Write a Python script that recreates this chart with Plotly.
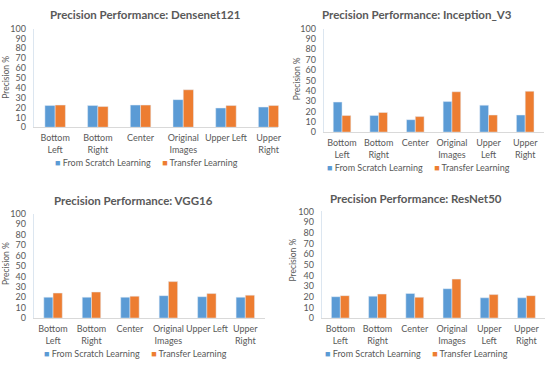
import plotly.graph_objects as go

categories = ["Bottom Left", "Bottom Right", "Center", "Original Images", "Upper Left", "Upper Right"]
labels_wide = ["Bottom<br>Left", "Bottom<br>Right", "Center", "Original<br>Images", "Upper Left", "Upper<br>Right"]
labels_narrow = ["Bottom<br>Left", "Bottom<br>Right", "Center", "Original<br>Images", "Upper<br>Left", "Upper<br>Right"]
y_ticks = [0, 10, 20, 30, 40, 50, 60, 70, 80, 90, 100]

models = ["Densenet121", "Inception_V3", "VGG16", "ResNet50"]
densenet_scratch = [22, 22, 22.5, 28, 19.5, 20.5]
densenet_transfer = [22.5, 21, 22.5, 38, 22, 22]
inception_scratch = [29, 16, 12, 29.5, 26, 16.5]
inception_transfer = [16, 19, 15, 39, 16.5, 39.5]
vgg_scratch = [20, 20, 20, 21.5, 20.5, 20]
vgg_transfer = [24, 25, 21, 35, 23.5, 22]
resnet_scratch = [20, 20.5, 23, 27.5, 19, 19]
resnet_transfer = [21, 22.5, 19.5, 36.5, 22, 21]
series_names = ["From Scratch Learning", "Transfer Learning"]

BLUE = "#5B9BD5"
ORANGE = "#ED7D31"
GRAY = "#595959"
FONT = "Lato"
W, H = 550, 367

def px(x):
    return x / W

def py(y):
    return 1 - y / H

panels = [
    dict(data=(densenet_scratch, densenet_transfer), labels=labels_wide,
         x0=34, x1=280, yt=23.3, yb=125, xend=5.23, tx=146, ty=9, ax=6, ay=73, lx=147, ly=161),
    dict(data=(inception_scratch, inception_transfer), labels=labels_narrow,
         x0=325.5, x1=546.5, yt=23.3, yb=130, xend=5.5, tx=419, ty=9, ax=298, ay=75, lx=421, ly=166),
    dict(data=(vgg_scratch, vgg_transfer), labels=labels_wide,
         x0=34, x1=266, yt=214.3, yb=321.7, xend=5.5, tx=134, ty=200, ax=6, ay=265, lx=136, ly=358),
    dict(data=(resnet_scratch, resnet_transfer), labels=labels_narrow,
         x0=323.5, x1=548, yt=211.7, yb=321.7, xend=5.5, tx=418, ty=198, ax=295, ay=262, lx=419, ly=358),
]

fig = go.Figure()
annotations = []
for i, (p, model) in enumerate(zip(panels, models)):
    n = "" if i == 0 else str(i + 1)
    xa, ya = "x" + n, "y" + n
    for vals, name, col in zip(p["data"], series_names, [BLUE, ORANGE]):
        fig.add_trace(go.Bar(x=categories, y=vals, name=name, marker_color=col,
                             xaxis=xa, yaxis=ya, showlegend=False, offsetgroup=name))
    fig.update_layout(**{
        "xaxis" + n: dict(domain=[px(p["x0"]), px(p["x1"])], anchor=ya,
                          range=[-0.5, p["xend"]], tickvals=categories, ticktext=p["labels"],
                          showline=True, linecolor="#D9D9D9", linewidth=1, ticks="",
                          showgrid=False, zeroline=False, tickangle=0,
                          ticklabelstandoff=2,
                          tickfont=dict(family=FONT, size=9, color=GRAY)),
        "yaxis" + n: dict(domain=[py(p["yb"]), py(p["yt"])], anchor=xa, range=[0, 100],
                          tickvals=y_ticks, showline=True, linecolor="#DCE6F0", linewidth=1,
                          showgrid=False, zeroline=False, ticks="", ticklabelstandoff=5,
                          tickfont=dict(family=FONT, size=9, color=GRAY)),
    })
    annotations.append(dict(text="<b>Precision Performance: " + model + "</b>",
                            x=px(p["tx"]), y=py(p["ty"]), xref="paper", yref="paper",
                            showarrow=False, xanchor="center", yanchor="middle",
                            font=dict(family=FONT, size=11.5, color=GRAY)))
    annotations.append(dict(text="Precision %", x=px(p["ax"]), y=py(p["ay"]), xref="paper",
                            yref="paper", showarrow=False, textangle=-90,
                            xanchor="center", yanchor="middle",
                            font=dict(family=FONT, size=8.5, color=GRAY)))
    legend_text = "&nbsp;&nbsp;&nbsp;&nbsp;&nbsp;".join(
        "<span style='color:%s'>■</span> %s" % (c, s) for c, s in zip([BLUE, ORANGE], series_names))
    annotations.append(dict(text=legend_text, x=px(p["lx"]), y=py(p["ly"]), xref="paper",
                            yref="paper", showarrow=False, xanchor="center", yanchor="middle",
                            font=dict(family=FONT, size=9, color=GRAY)))

fig.update_layout(width=W, height=H, margin=dict(l=0, r=0, t=0, b=0),
                  paper_bgcolor="white", plot_bgcolor="white",
                  barmode="group", bargap=0.52, bargroupgap=0,
                  annotations=annotations)
fig.write_html("out.html", config={"displayModeBar": False},
               post_script="document.body.style.margin='0';")
